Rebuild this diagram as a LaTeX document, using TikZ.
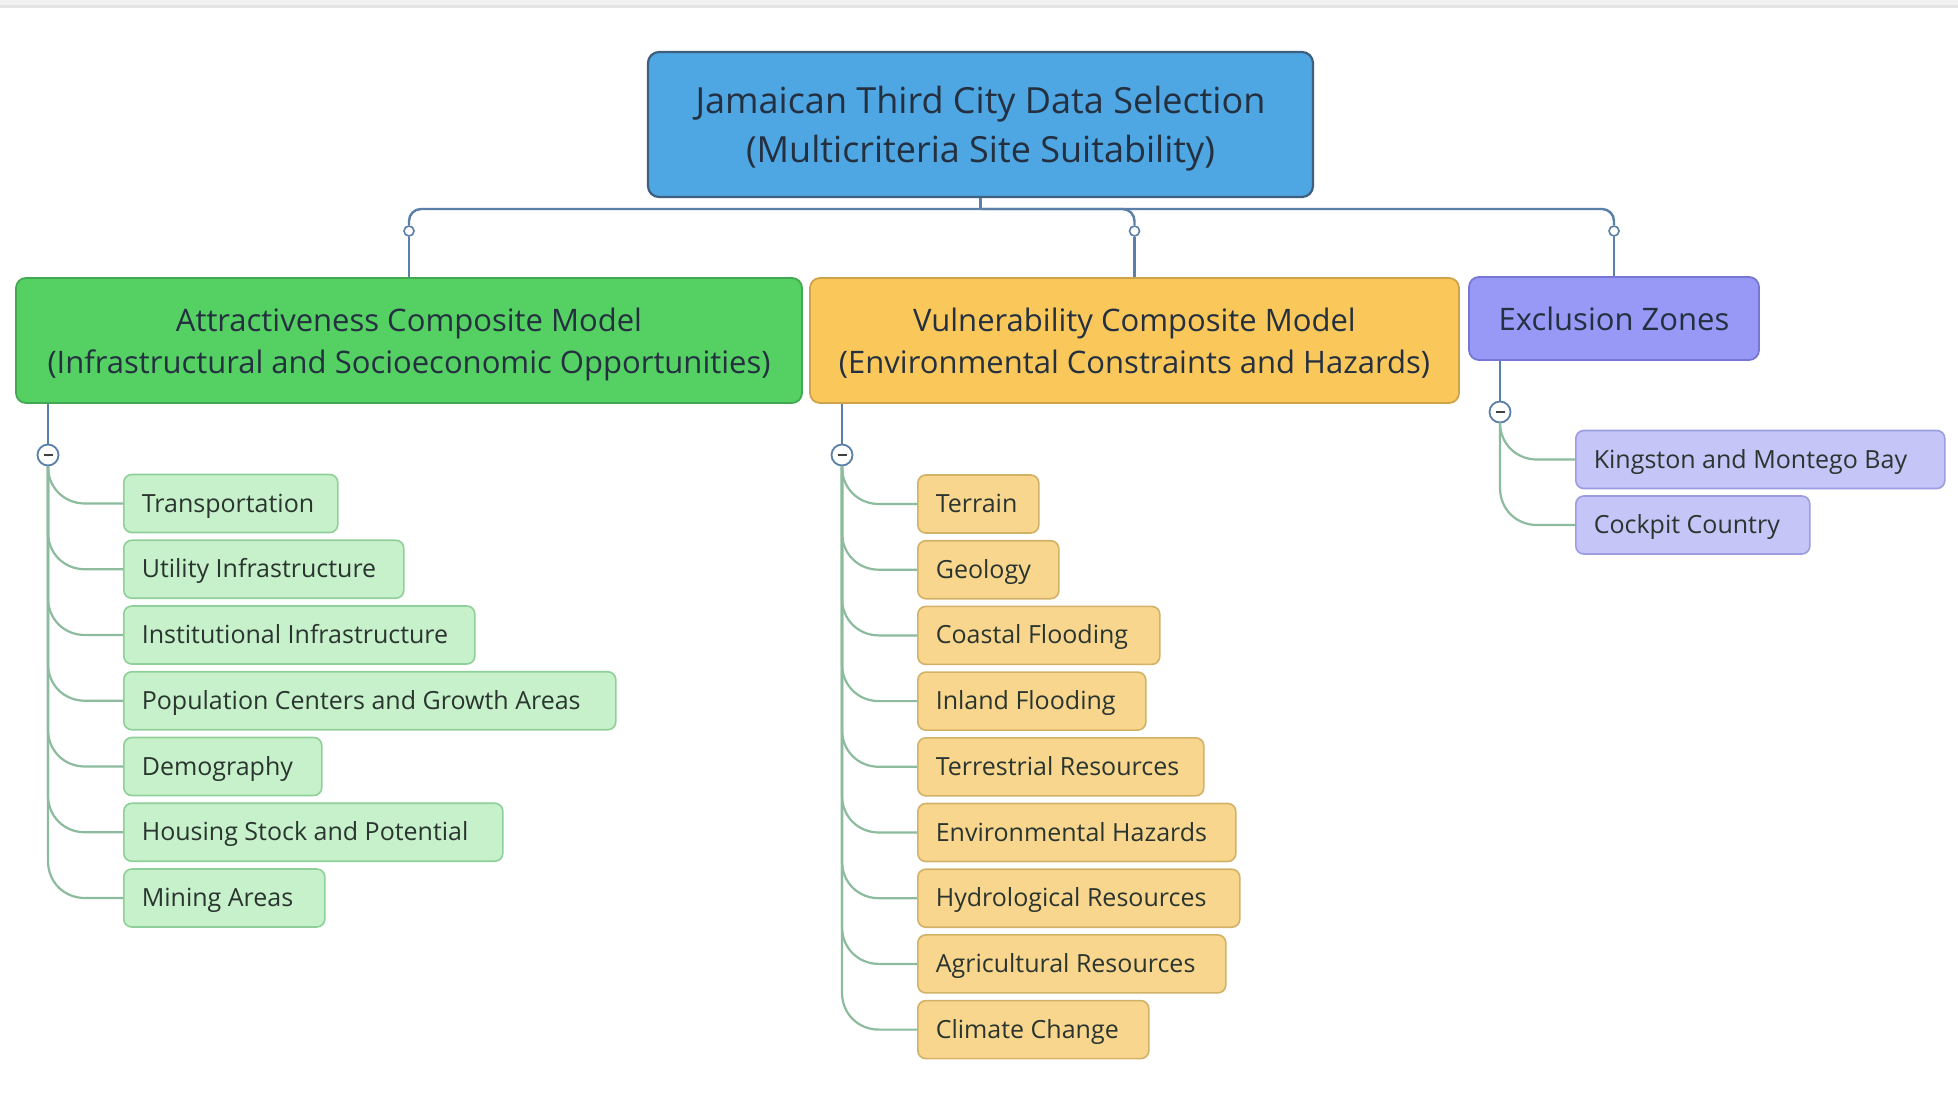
\documentclass[tikz,border=0pt]{standalone}
\usepackage{fontspec}
\setmainfont{Open Sans}
\usetikzlibrary{calc}
\definecolor{rootfill}{HTML}{4EA6E2}
\definecolor{rootline}{HTML}{3E5F7E}
\definecolor{gfill}{HTML}{55D062}
\definecolor{gline}{HTML}{43A852}
\definecolor{yfill}{HTML}{FAC85A}
\definecolor{yline}{HTML}{CFA34A}
\definecolor{pfill}{HTML}{9898F6}
\definecolor{pline}{HTML}{7676D4}
\definecolor{gkid}{HTML}{C7F1CB}
\definecolor{gkidline}{HTML}{8FCF99}
\definecolor{ykid}{HTML}{F8D68D}
\definecolor{ykidline}{HTML}{D2B267}
\definecolor{pkid}{HTML}{C5C5F8}
\definecolor{pkidline}{HTML}{9C9CE0}
\definecolor{conncol}{HTML}{5A7FA8}
\definecolor{subcol}{HTML}{8DBB9E}
\definecolor{txt}{HTML}{243040}
\definecolor{kidtxt}{HTML}{2A352F}
\definecolor{bar1}{HTML}{F2F2F2}
\definecolor{bar2}{HTML}{E4E4E4}
\newcommand\kidtext[2]{\makebox[#1][l]{#2}}
\newcommand\mmbranch[2]{%
  \draw[subline] (#1.south) -- ($(#1.south |- #2.west)+(0,-37)$)
    .. controls ($(#1.south |- #2.west)+(0,-16)$) and ($(#1.south |- #2.west)+(16,0)$)
    .. ($(#1.south |- #2.west)+(37,0)$) -- (#2.west);}
\begin{document}
\begin{tikzpicture}[x=1pt,y=-1pt,
  box/.style={rectangle, inner sep=0pt},
  rootbox/.style={box, rounded corners=11pt, fill=rootfill, draw=rootline, line width=2.2pt,
    text=txt, font=\fontsize{36}{49}\selectfont, align=center, text depth=0pt,
    minimum width=665pt, minimum height=145pt},
  headbox/.style={box, rounded corners=10pt, line width=1.8pt, text=txt,
    font=\fontsize{31}{42}\selectfont, align=center, text depth=0pt, minimum height=125pt},
  kid/.style={box, rounded corners=8pt, line width=1.6pt, anchor=west, text=kidtxt,
    minimum height=58pt, inner xsep=18pt, inner ysep=0pt,
    text height=18pt, text depth=1pt, font=\fontsize{25}{30}\selectfont},
  gk/.style={kid, fill=gkid, draw=gkidline},
  yk/.style={kid, fill=ykid, draw=ykidline},
  pk/.style={kid, fill=pkid, draw=pkidline},
  topline/.style={draw=conncol, line width=2.4pt},
  subline/.style={draw=subcol, line width=2.2pt},
  dot/.style={circle, draw=conncol, fill=white, line width=1.6pt, minimum size=10pt, inner sep=0pt},
  minusdot/.style={circle, draw=conncol, fill=white, line width=1.8pt, minimum size=21pt,
    inner sep=0pt, text=darkgray}
]
\useasboundingbox (0,0) rectangle (1958,1117);
\fill[white] (0,0) rectangle (1958,1117);
\fill[bar1] (0,0) rectangle (1958,5);
\fill[bar2] (0,5) rectangle (1958,7.5);

% root and headers
\node[rootbox] (root) at (980.5,124.5) {Jamaican Third City Data Selection\\(Multicriteria Site Suitability)};
\node[headbox, fill=gfill, draw=gline, minimum width=786pt] (att) at (409,340.5)
  {Attractiveness Composite Model\\(Infrastructural and Socioeconomic Opportunities)};
\node[headbox, fill=yfill, draw=yline, minimum width=649pt] (vul) at (1134.5,340.5)
  {Vulnerability Composite Model\\(Environmental Constraints and Hazards)};
\node[headbox, fill=pfill, draw=pline, minimum width=290pt, minimum height=83pt] (exc) at (1614,318.5)
  {Exclusion Zones};

% top connectors
\coordinate (jn) at (980.5,209);
\node[dot] (d1) at (409,231) {};
\node[dot] (d2) at (1134.5,231) {};
\node[dot] (d3) at (1614,231) {};
\draw[topline] (root.south) -- (jn);
\draw[topline, rounded corners=12pt] (jn) -| (d1.north);
\draw[topline, rounded corners=12pt] (jn) -| (d2.north);
\draw[topline, rounded corners=12pt] (jn) -| (d3.north);
\draw[topline] (d1.south) -- (att.north);
\draw[topline] (d2.south) -- (vul.north);
\draw[topline] (d3.south) -- (exc.north);

% collapse markers
\node[minusdot] (gm) at (48,455) {\rule{9pt}{2.6pt}};
\node[minusdot] (ym) at (842,455) {\rule{9pt}{2.6pt}};
\node[minusdot] (pm) at (1500,412) {\rule{9pt}{2.6pt}};
\draw[topline] (gm |- att.south) -- (gm);
\draw[topline] (ym |- vul.south) -- (ym);
\draw[topline] (pm |- exc.south) -- (pm);

% green children
\node[gk] (g1) at (123,503.5) {\kidtext{178pt}{Transportation}};
\node[gk] (g2) at (123,569.25) {\kidtext{244pt}{Utility Infrastructure}};
\node[gk] (g3) at (123,635) {\kidtext{315pt}{Institutional Infrastructure}};
\node[gk] (g4) at (123,700.75) {\kidtext{456pt}{Population Centers and Growth Areas}};
\node[gk] (g5) at (123,766.5) {\kidtext{162pt}{Demography}};
\node[gk] (g6) at (123,832.25) {\kidtext{343pt}{Housing Stock and Potential}};
\node[gk] (g7) at (123,898) {\kidtext{165pt}{Mining Areas}};

% yellow children
\node[yk] (y1) at (917,504) {\kidtext{85pt}{Terrain}};
\node[yk] (y2) at (917,569.7) {\kidtext{105pt}{Geology}};
\node[yk] (y3) at (917,635.4) {\kidtext{206pt}{Coastal Flooding}};
\node[yk] (y4) at (917,701.1) {\kidtext{192pt}{Inland Flooding}};
\node[yk] (y5) at (917,766.8) {\kidtext{250pt}{Terrestrial Resources}};
\node[yk] (y6) at (917,832.5) {\kidtext{282pt}{Environmental Hazards}};
\node[yk] (y7) at (917,898.2) {\kidtext{286pt}{Hydrological Resources}};
\node[yk] (y8) at (917,963.9) {\kidtext{272pt}{Agricultural Resources}};
\node[yk] (y9) at (917,1029.6) {\kidtext{195pt}{Climate Change}};

% purple children
\node[pk] (p1) at (1575,459.5) {\kidtext{333pt}{Kingston and Montego Bay}};
\node[pk] (p2) at (1575,525) {\kidtext{198pt}{Cockpit Country}};

% branches
\foreach \k in {g1,g2,g3,g4,g5,g6,g7} {\mmbranch{gm}{\k}}
\foreach \k in {y1,y2,y3,y4,y5,y6,y7,y8,y9} {\mmbranch{ym}{\k}}
\foreach \k in {p1,p2} {\mmbranch{pm}{\k}}
\end{tikzpicture}
\end{document}
